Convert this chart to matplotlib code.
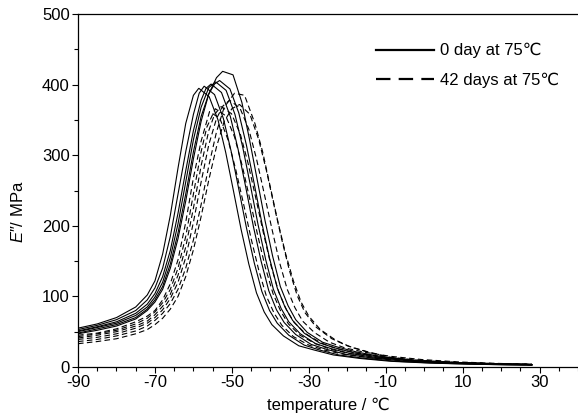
import matplotlib
matplotlib.use("Agg")
import matplotlib.pyplot as plt
from matplotlib.lines import Line2D
from matplotlib.ticker import MultipleLocator

plt.rcParams["font.family"] = ["Liberation Sans", "DejaVu Sans"]
plt.rcParams["axes.unicode_minus"] = False
plt.rcParams["mathtext.fontset"] = "custom"
plt.rcParams["mathtext.rm"] = "Liberation Sans"
plt.rcParams["mathtext.it"] = "Liberation Sans:italic"

# ---- loss modulus curves (temperature in °C, E'' in MPa) ----
# 0 day at 75 °C (solid)
S1_T = [-90, -85, -80, -75, -72, -70, -68, -66, -64, -62, -60, -58.6, -55.9, -53.6, -51.6, -49.6,
        -47.6, -45.6, -43.6, -41.6, -39.6, -36.6, -32.6, -28.6, -23.6, -16.6, -8.6, 1.4, 11.4, 21.4, 28]
S1_E = [55, 61, 70, 85, 102, 122, 160, 215, 282, 345, 385, 395, 383, 350, 304, 250,
        195, 146, 105, 78, 60, 44, 30, 24, 17, 12, 8, 5.5, 4, 3, 2.8]
S2_T = [-90, -85, -80, -75, -72, -70, -68, -66, -64, -62, -60, -58.5, -57.2, -54.5, -52.2, -50.2,
        -48.2, -46.2, -44.2, -42.2, -40.2, -38.2, -35.2, -31.2, -27.2, -22.2, -15.2, -7.2, 2.8, 12.8, 22.8, 28]
S2_E = [53, 59, 67, 80, 95, 112, 140, 185, 245, 305, 358, 388, 398, 386, 352, 306,
        252, 197, 148, 107, 80, 62, 45, 31, 24, 17, 12, 8, 5.5, 4, 3, 2.8]
S3_T = [-90, -85, -80, -75, -72, -70, -68, -66, -64, -62, -60, -58, -56.7, -55.4, -52.7, -50.4,
        -48.4, -46.4, -44.4, -42.4, -40.4, -38.4, -36.4, -33.4, -29.4, -25.4, -20.4, -13.4, -5.4,
        4.6, 14.6, 24.6, 28]
S3_E = [51, 57, 64, 76, 89, 104, 128, 165, 218, 278, 335, 378, 395, 401, 389, 355,
        309, 255, 199, 150, 108, 81, 63, 46, 32, 25, 18, 12.5, 8.5, 5.8, 4.2, 3.2, 3]
S4_T = [-90, -85, -80, -75, -72, -70, -68, -66, -64, -62, -60, -58, -56, -54.2, -51.5, -49.2,
        -47.2, -45.2, -43.2, -41.2, -39.2, -37.2, -35.2, -32.2, -28.2, -24.2, -19.2, -12.2, -4.2,
        5.8, 15.8, 25.8, 28]
S4_E = [50, 56, 62, 73, 85, 99, 120, 155, 203, 262, 322, 368, 396, 404, 392, 358,
        312, 258, 202, 152, 110, 83, 64, 47, 33, 26, 19, 13, 9, 6, 4.3, 3.3, 3]
S5_T = [-90, -85, -80, -75, -72, -70, -68, -66, -64, -62, -60, -58, -56, -54.5, -53.2, -50.5,
        -48.2, -46.2, -44.2, -42.2, -40.2, -38.2, -36.2, -34.2, -31.2, -27.2, -23.2, -18.2, -11.2,
        -3.2, 6.8, 16.8, 26.8, 28]
S5_E = [48, 54, 60, 70, 82, 95, 114, 146, 190, 245, 305, 355, 387, 401, 406, 394,
        360, 314, 260, 204, 154, 112, 85, 66, 48, 34, 27, 20, 13.5, 9.3, 6.2, 4.5, 3.4, 3.2]
S6_T = [-90, -85, -80, -75, -72, -70, -68, -66, -64, -62, -60, -58, -56, -54, -52.4, -49.7,
        -47.4, -45.4, -43.4, -41.4, -39.4, -37.4, -35.4, -33.4, -30.4, -26.4, -22.4, -17.4, -10.4,
        -2.4, 7.6, 17.6, 27.6, 28]
S6_E = [47, 52, 58, 68, 80, 92, 110, 140, 182, 235, 295, 348, 387, 410, 419, 414,
        375, 322, 265, 208, 157, 114, 87, 67, 49, 35, 28, 21, 14, 9.6, 6.4, 4.6, 3.5, 3.4]

# 42 days at 75 °C (dashed)
D1_T = [-90, -85, -80, -75, -72, -70, -68, -66, -64, -62, -60, -58, -55.8, -53.1, -51, -49,
        -47, -45, -43, -41, -39, -37, -34, -30, -26, -21, -14, -6, 4, 14, 24, 28]
D1_E = [45, 48, 54, 64, 72, 80, 95, 118, 152, 205, 268, 320, 362, 352, 322, 280,
        232, 182, 137, 100, 76, 59, 43, 31, 24, 18, 13, 9, 6, 4.5, 3.5, 3.3]
D2_T = [-90, -85, -80, -75, -72, -70, -68, -66, -64, -62, -60, -58, -56.5, -54.3, -51.6, -49.3,
        -47.3, -45.3, -43.3, -41.3, -39.3, -37.3, -35.3, -32.3, -28.3, -24.3, -19.3, -12.3, -4.3,
        5.7, 15.7, 25.7, 28]
D2_E = [43, 47, 52, 61, 69, 78, 91, 110, 140, 185, 245, 305, 340, 366, 356, 326,
        285, 237, 187, 141, 104, 79, 61, 45, 33, 25, 19, 14, 9.5, 6.3, 4.7, 3.6, 3.4]
D3_T = [-90, -85, -80, -75, -72, -70, -68, -66, -64, -62, -60, -58, -56, -54.5, -52.8, -50.1,
        -47.8, -45.8, -43.8, -41.8, -39.8, -37.8, -35.8, -33.8, -30.8, -26.8, -22.8, -17.8, -10.8,
        -2.8, 7.2, 17.2, 27.2, 28]
D3_E = [41, 45, 50, 58, 65, 74, 86, 103, 130, 170, 225, 285, 335, 358, 369, 359,
        330, 289, 240, 190, 143, 106, 81, 63, 47, 34, 26, 20, 14.5, 10, 6.6, 4.8, 3.7, 3.6]
D4_T = [-90, -85, -80, -75, -72, -70, -68, -66, -64, -62, -60, -58, -56, -54, -52.3, -50.6,
        -47.9, -45.6, -43.6, -41.6, -39.6, -37.6, -35.6, -33.6, -31.6, -28.6, -24.6, -20.6, -15.6,
        -8.6, -0.6, 9.4, 19.4, 28]
D4_E = [39, 42, 47, 55, 62, 70, 81, 97, 120, 155, 205, 262, 315, 352, 370, 378,
        367, 337, 295, 246, 196, 148, 110, 84, 65, 49, 35, 27, 21, 15, 10.5, 7, 5, 3.8]
D5_T = [-90, -85, -80, -75, -72, -70, -68, -66, -64, -62, -60, -58, -56, -54, -52, -49.3,
        -46.7, -44, -42, -40, -38, -36, -34, -32, -30, -27, -23, -19, -14, -8, 0, 10, 20, 28]
D5_E = [36, 39, 44, 51, 58, 66, 76, 90, 110, 140, 180, 230, 285, 333, 368, 388,
        385, 345, 305, 255, 205, 160, 122, 92, 72, 53, 38, 28, 20, 12, 8, 6, 4.5, 4]
D6_T = [-90, -85, -80, -75, -72, -70, -68, -66, -64, -62, -60, -58, -56, -54, -52, -50,
        -48, -45.3, -43, -41, -39, -37, -35, -33, -31, -28, -24, -20, -15, -9, -1, 9, 19, 28]
D6_E = [33, 36, 40, 47, 53, 60, 69, 82, 100, 128, 166, 213, 265, 312, 348, 366,
        372, 358, 322, 278, 228, 180, 136, 101, 77, 56, 40, 30, 22, 14, 9, 6.2, 4.7, 4]

SOLID = [(S1_T, S1_E), (S2_T, S2_E), (S3_T, S3_E), (S4_T, S4_E), (S5_T, S5_E), (S6_T, S6_E)]
DASHED = [(D1_T, D1_E), (D2_T, D2_E), (D3_T, D3_E), (D4_T, D4_E), (D5_T, D5_E), (D6_T, D6_E)]
LABELS = ["0 day at 75\u2103", "42 days at 75\u2103"]

fig = plt.figure(figsize=(5.78, 4.17), dpi=100)
ax = fig.add_axes([0.135, 0.12, 0.865, 0.846])

for t, e in SOLID:
    ax.plot(t, e, color="black", lw=0.8, solid_joinstyle="miter")
for t, e in DASHED:
    ax.plot(t, e, color="black", lw=0.8, linestyle=(0, (5, 3)))

ax.set_xlim(-90, 40)
ax.set_ylim(0, 500)
ax.xaxis.set_minor_locator(MultipleLocator(5))
ax.yaxis.set_major_locator(MultipleLocator(100))
ax.yaxis.set_minor_locator(MultipleLocator(50))
ax.set_xticks(range(-90, 41, 20))
ax.spines["right"].set_visible(False)
for s in ("left", "bottom", "top"):
    ax.spines[s].set_linewidth(0.9)
ax.tick_params(which="major", direction="out", length=4, width=0.8, labelsize=12, pad=2)
ax.tick_params(which="minor", direction="out", length=3, width=0.8)
ax.tick_params(top=False, which="both")

ax.set_xlabel("temperature / \u2103", fontsize=12, labelpad=5)
ax.set_ylabel("$E$\u2033/ MPa", fontsize=12)
ax.yaxis.set_label_coords(-0.105, 0.44)

handles = [Line2D([], [], color="black", lw=1.6),
           Line2D([], [], color="black", lw=1.6, linestyle=(0, (6.5, 3.7)))]
ax.legend(handles, LABELS, loc="upper left", bbox_to_anchor=(0.596, 0.918),
          frameon=False, fontsize=12, handlelength=3.5, handletextpad=0.35,
          labelspacing=0.85, borderpad=0, borderaxespad=0)

fig.savefig("out.png", dpi=100)
